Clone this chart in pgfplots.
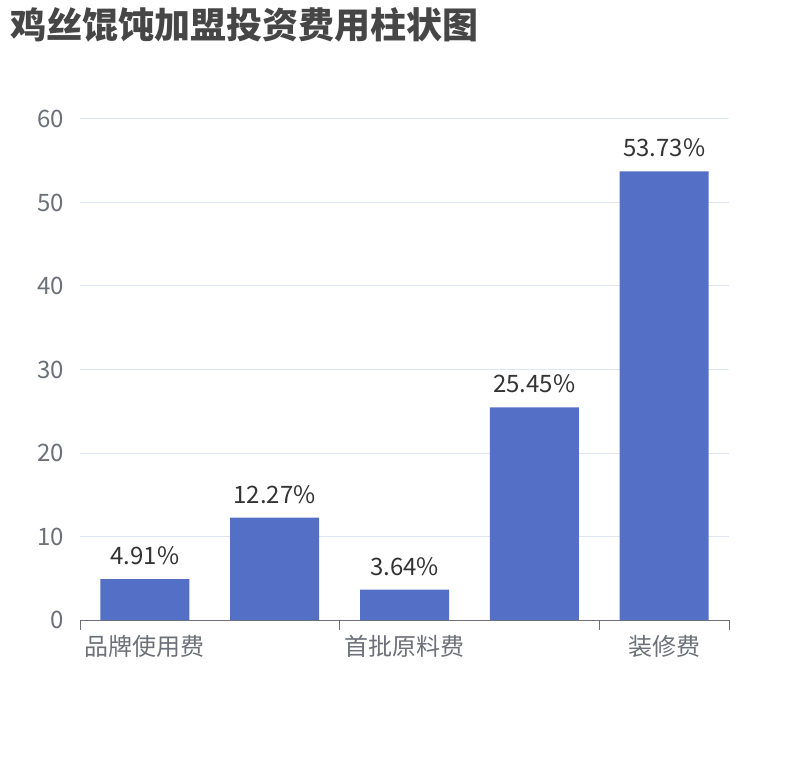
\documentclass[border=0pt]{standalone}
\usepackage{fontspec}
\setmainfont{Noto Sans CJK SC}
\usepackage{pgfplots}
\pgfplotsset{compat=1.18}
\definecolor{barc}{HTML}{5470C6}
\definecolor{tickc}{HTML}{6E7079}
\definecolor{gridc}{HTML}{E0E6F1}
\definecolor{titlec}{HTML}{464646}
\definecolor{labelc}{HTML}{333333}
\begin{document}
\begin{tikzpicture}[x=1pt,y=1pt]
\path[use as bounding box] (0,0) rectangle (810,760);
\node[anchor=west, inner sep=0pt, font=\fontsize{36}{40}\selectfont\bfseries, text=titlec] at (10,735) {鸡丝馄饨加盟投资费用柱状图};
\begin{axis}[
  at={(80pt,140pt)}, anchor=south west,
  scale only axis, width=649pt, height=501pt,
  xmin=-0.5, xmax=4.5, ymin=0, ymax=60,
  ytick={0,10,...,60},
  xtick={0,2,4},
  xticklabels={品牌使用费,首批原料费,装修费},
  extra x ticks={-0.5,1.5,3.5,4.5},
  extra x tick labels={},
  extra x tick style={major tick length=10pt, tick align=outside, tick style={color=tickc, line width=1pt}, grid=none},
  major tick length=0pt,
  axis x line*=bottom, axis y line*=left,
  x axis line style={color=tickc, line width=1pt, -},
  y axis line style={draw=none},
  ymajorgrids, grid style={color=gridc, line width=1pt},
  /pgf/number format/assume math mode=true,
  yticklabel style={font=\fontsize{24}{24}\selectfont, text=tickc, inner sep=0pt, anchor=east, xshift=-16pt},
  xticklabel style={font=\fontsize{24}{24}\selectfont, text=tickc, inner sep=0pt, anchor=north, yshift=-15pt},
  ybar, bar width=89pt,
  clip=false,
  nodes near coords={\pgfmathprintnumber[fixed,precision=2,fixed zerofill]{\pgfplotspointmeta}\%},
  every node near coord/.append style={font=\fontsize{24}{24}\selectfont, text=labelc, anchor=south, inner sep=0pt, yshift=14pt},
]
\addplot[draw=none, fill=barc] coordinates {(0,4.91) (1,12.27) (2,3.64) (3,25.45) (4,53.73)};
\end{axis}
\end{tikzpicture}
\end{document}
